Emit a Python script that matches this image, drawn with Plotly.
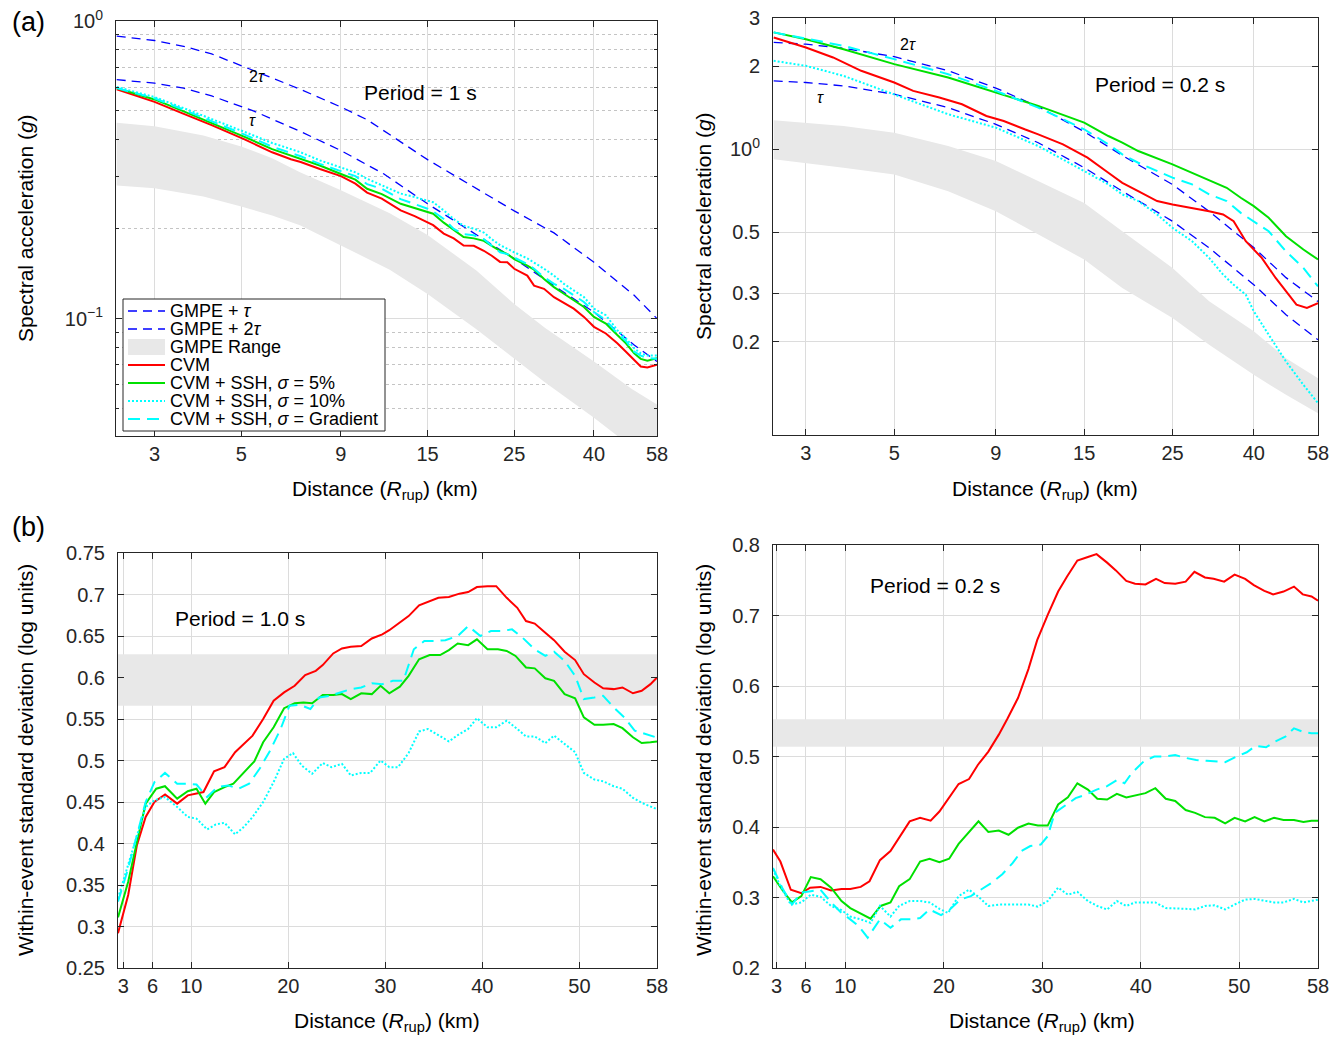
import math
import plotly.graph_objects as go

# ================= DATA =================
# ---- (a) left : Period = 1 s (spectral acceleration, g) ----
TL_X = [2.4, 3.0, 3.5, 4.2, 5.1, 6.0, 6.7, 7.1, 7.95, 9.0, 9.8, 10.5, 11.45, 12.8, 13.9, 15.0, 15.5, 16.5,
        17.5, 18.55, 19.7, 20.9, 21.9, 23.0, 24.0, 25.0, 27.0, 28.1, 29.8, 31.6, 33.5, 35.5, 37.7, 40.0,
        42.9, 45.9, 48.3, 50.7, 52.7, 54.8, 58.0]
TL_CVM = [0.59, 0.535, 0.492, 0.447, 0.4, 0.362, 0.343, 0.336, 0.318, 0.301, 0.284, 0.265, 0.253, 0.231,
          0.221, 0.21, 0.206, 0.193, 0.186, 0.176, 0.1756, 0.169, 0.1626, 0.155, 0.1545, 0.147, 0.1394,
          0.129, 0.1259, 0.118, 0.1128, 0.108, 0.1013, 0.0938, 0.0891, 0.0826, 0.0774, 0.0726, 0.069,
          0.0685, 0.070]
TL_SSH5 = [0.595, 0.545, 0.502, 0.455, 0.408, 0.371, 0.353, 0.346, 0.327, 0.306, 0.293, 0.273, 0.262,
           0.243, 0.235, 0.227, 0.225, 0.21, 0.198, 0.188, 0.186, 0.1824, 0.1756, 0.169, 0.1647, 0.1585,
           0.1506, 0.146, 0.1359, 0.1275, 0.1212, 0.1151, 0.1094, 0.1013, 0.0962, 0.088, 0.0826, 0.0764,
           0.0732, 0.0721, 0.0736]
TL_SSH10 = [0.6, 0.555, 0.514, 0.469, 0.424, 0.389, 0.371, 0.362, 0.34, 0.322, 0.31, 0.295, 0.28, 0.263,
            0.256, 0.249, 0.246, 0.231, 0.216, 0.205, 0.2005, 0.1945, 0.1848, 0.1765, 0.1711, 0.167,
            0.1593, 0.1545, 0.147, 0.1394, 0.1308, 0.1243, 0.1181, 0.108, 0.1026, 0.0914, 0.0858, 0.0794,
            0.0764, 0.0751, 0.0751]
TL_SSHG = [0.595, 0.55, 0.508, 0.461, 0.415, 0.378, 0.361, 0.351, 0.331, 0.312, 0.301, 0.283, 0.273,
           0.252, 0.243, 0.234, 0.229, 0.216, 0.2, 0.192, 0.1905, 0.1848, 0.1756, 0.167, 0.1647, 0.1605,
           0.1525, 0.147, 0.1377, 0.1308, 0.1259, 0.1197, 0.1137, 0.1052, 0.0988, 0.0891, 0.0841, 0.0774,
           0.0751, 0.0736, 0.0733]
TL_TAU_X = [2.4, 3.0, 3.56, 4.2, 5.35, 7.07, 9.0, 11.6, 15.0, 18.9, 25.0, 31.6, 40.0, 50.7, 58.0]
TL_TAU = [0.635, 0.618, 0.595, 0.56, 0.5, 0.426, 0.367, 0.306, 0.243, 0.2, 0.159, 0.129, 0.105, 0.0815, 0.0717]
TL_2TAU_X = [2.4, 3.0, 3.56, 4.2, 5.48, 7.07, 9.0, 10.5, 15.0, 18.9, 25.0, 31.6, 40.0, 50.7, 58.0]
TL_2TAU = [0.89, 0.86, 0.822, 0.775, 0.675, 0.59, 0.514, 0.466, 0.342, 0.286, 0.23, 0.194, 0.1545, 0.1197, 0.1]
TL_BAND_X = [2.4, 3.0, 4.0, 5.0, 6.0, 7.07, 9.0, 12.0, 15.0, 20.0, 25.0, 30.0, 40.0, 50.0, 58.0]
TL_BAND_HI = [0.455, 0.443, 0.412, 0.379, 0.346, 0.31, 0.27, 0.226, 0.191, 0.145, 0.112, 0.093, 0.0717, 0.058, 0.0514]
TL_BAND_LO = [0.28, 0.274, 0.257, 0.238, 0.222, 0.206, 0.176, 0.146, 0.121, 0.092, 0.0736, 0.061, 0.0464, 0.037, 0.032]

# ---- (a) right : Period = 0.2 s ----
TR_CVM_X = [2.49, 3.0, 3.51, 4.13, 5.0, 5.58, 6.49, 7.4, 8.52, 9.42, 10.63, 11.5, 13.27, 15.29, 17.25, 18.7,
            20.5, 22.87, 25.0, 28.0, 30.9, 33.5, 35.6, 38.2, 41.9, 45.4, 48.2, 51.2, 54.4, 58.0]
TR_CVM = [2.55, 2.345, 2.157, 1.929, 1.749, 1.631, 1.542, 1.458, 1.322, 1.268, 1.183, 1.134, 1.043, 0.933,
          0.822, 0.756, 0.705, 0.649, 0.631, 0.613, 0.596, 0.58, 0.548, 0.4637, 0.4034, 0.341, 0.305,
          0.2727, 0.2652, 0.2765]
TR_SSH5_X = [2.49, 3.0, 3.73, 5.0, 6.83, 9.0, 11.5, 15.0, 17.25, 18.7, 20.5, 25.0, 28.0, 30.9, 34.2, 37.1,
             40.0, 43.6, 48.2, 53.3, 58.0]
TR_SSH5 = [2.66, 2.51, 2.31, 2.04, 1.824, 1.608, 1.438, 1.251, 1.118, 1.057, 0.986, 0.882, 0.822, 0.777,
           0.725, 0.667, 0.622, 0.564, 0.4836, 0.4325, 0.398]
TR_SSHG_X = [2.49, 3.73, 5.0, 6.83, 9.0, 11.5, 15.0, 17.25, 18.7, 20.5, 25.0, 28.0, 30.9, 34.2, 37.1, 40.0,
             43.6, 48.2, 53.3, 58.0]
TR_SSHG = [2.66, 2.377, 2.127, 1.875, 1.631, 1.418, 1.183, 1.043, 0.959, 0.894, 0.789, 0.746, 0.686, 0.649,
           0.588, 0.548, 0.504, 0.426, 0.371, 0.318]
TR_SSH10_X = [2.49, 3.0, 3.73, 5.0, 6.83, 9.0, 11.5, 15.0, 17.25, 18.7, 20.5, 22.87, 25.0, 28.0, 30.9, 33.5,
              35.6, 38.2, 40.0, 43.6, 48.2, 53.3, 58.0]
TR_SSH10 = [2.097, 2.011, 1.849, 1.586, 1.341, 1.199, 1.028, 0.834, 0.746, 0.686, 0.649, 0.58, 0.519,
            0.4637, 0.4034, 0.3507, 0.3225, 0.2966, 0.258, 0.2122, 0.1696, 0.1395, 0.1197]
TR_GMPE_X = [2.49, 3.0, 3.73, 5.0, 6.83, 9.0, 11.5, 15.0, 18.7, 25.0, 30.9, 40.0, 48.2, 58.0]
TR_TAU = [1.773, 1.749, 1.70, 1.586, 1.418, 1.233, 1.057, 0.858, 0.705, 0.548, 0.4385, 0.3225, 0.2508, 0.2034]
TR_2TAU = [2.445, 2.41, 2.33, 2.17, 1.93, 1.67, 1.43, 1.16, 0.95, 0.745, 0.595, 0.44, 0.342, 0.28]
TR_BAND_X = [2.49, 3.73, 5.0, 6.83, 9.0, 11.5, 15.0, 18.7, 25.0, 30.9, 40.0, 48.2, 58.0]
TR_BAND_HI = [1.275, 1.216, 1.15, 1.028, 0.907, 0.767, 0.639, 0.504, 0.371, 0.2805, 0.2182, 0.1744, 0.1475]
TR_BAND_LO = [0.92, 0.858, 0.811, 0.705, 0.596, 0.4904, 0.398, 0.3136, 0.2439, 0.195, 0.1517, 0.1283, 0.11]

# ---- (b) left : Period = 1.0 s (within-event std, log units) ----
BL_CVM_X = [2.45, 3.5, 4.4, 5.3, 6.2, 7.3, 8.55, 9.64, 11.26, 12.35, 13.43, 14.52, 16.32, 17.41, 18.49, 19.57,
            20.66, 21.74, 22.83, 23.55, 24.63, 25.53, 26.44, 27.52, 28.61, 29.69, 30.41, 31.5, 32.4, 33.48,
            34.39, 35.47, 36.55, 37.64, 38.54, 39.44, 40.53, 41.43, 42.51, 43.6, 44.5, 45.4, 46.49, 47.39,
            48.48, 49.56, 50.46, 51.55, 52.45, 53.53, 54.44, 55.52, 56.42, 57.33, 58.0]
BL_CVM = [0.292, 0.338, 0.398, 0.432, 0.45, 0.459, 0.448, 0.458, 0.462, 0.487, 0.492, 0.51, 0.53, 0.55, 0.572,
          0.582, 0.59, 0.603, 0.608, 0.615, 0.629, 0.635, 0.637, 0.638, 0.647, 0.652, 0.657, 0.666, 0.674,
          0.687, 0.691, 0.696, 0.697, 0.701, 0.703, 0.709, 0.71, 0.71, 0.696, 0.684, 0.668, 0.665, 0.654,
          0.645, 0.631, 0.621, 0.604, 0.594, 0.587, 0.586, 0.588, 0.581, 0.584, 0.592, 0.6]
BL_SSH5_X = [2.45, 3.5, 4.4, 5.3, 6.39, 7.29, 8.55, 9.64, 10.54, 11.45, 12.35, 13.43, 14.34, 15.42, 16.5, 17.41,
             18.49, 19.57, 20.66, 21.56, 22.46, 23.55, 24.63, 25.53, 26.44, 27.52, 28.61, 29.51, 30.41, 31.5,
             32.4, 33.48, 34.57, 35.65, 36.55, 37.46, 38.54, 39.44, 40.53, 41.61, 42.51, 43.42, 44.5, 45.4,
             46.49, 47.39, 48.48, 49.56, 50.46, 51.55, 52.45, 53.53, 54.44, 55.52, 56.42, 57.33, 58.0]
BL_SSH5 = [0.311, 0.354, 0.402, 0.448, 0.466, 0.469, 0.454, 0.463, 0.466, 0.448, 0.462, 0.468, 0.472, 0.485,
           0.499, 0.522, 0.54, 0.563, 0.569, 0.57, 0.569, 0.579, 0.579, 0.58, 0.574, 0.581, 0.58, 0.59, 0.581,
           0.589, 0.602, 0.622, 0.627, 0.627, 0.633, 0.641, 0.639, 0.646, 0.634, 0.634, 0.632, 0.626, 0.612,
           0.611, 0.599, 0.596, 0.58, 0.575, 0.552, 0.543, 0.543, 0.544, 0.539, 0.528, 0.521, 0.522, 0.523]
BL_SSHG_X = [2.45, 3.5, 4.4, 5.3, 6.21, 7.29, 8.55, 9.64, 10.54, 11.63, 12.71, 13.79, 14.88, 15.96, 17.04,
             18.13, 19.21, 20.12, 21.2, 22.28, 23.19, 24.27, 25.35, 26.44, 27.52, 28.61, 29.69, 30.77, 31.86,
             32.94, 34.02, 35.1, 36.19, 37.46, 38.54, 39.8, 40.89, 41.97, 43.06, 44.14, 45.4, 46.49, 47.39,
             48.48, 49.56, 50.46, 51.55, 52.45, 53.53, 54.62, 55.7, 56.78, 57.87]
BL_SSHG = [0.33, 0.37, 0.41, 0.45, 0.474, 0.485, 0.472, 0.472, 0.471, 0.456, 0.468, 0.47, 0.466, 0.472, 0.49,
           0.512, 0.538, 0.566, 0.567, 0.562, 0.576, 0.578, 0.582, 0.586, 0.588, 0.593, 0.592, 0.596, 0.596,
           0.634, 0.644, 0.644, 0.645, 0.65, 0.662, 0.65, 0.656, 0.656, 0.658, 0.648, 0.634, 0.626, 0.631,
           0.62, 0.602, 0.574, 0.576, 0.578, 0.564, 0.552, 0.536, 0.532, 0.528]
BL_SSH10_X = [2.45, 3.5, 4.4, 5.3, 6.21, 7.29, 8.55, 9.64, 10.54, 11.63, 12.53, 13.43, 14.52, 15.42, 16.32,
              17.41, 18.49, 19.57, 20.48, 21.38, 22.46, 23.55, 24.45, 25.53, 26.44, 27.52, 28.43, 29.51, 30.41,
              31.32, 32.4, 33.48, 34.39, 35.47, 36.55, 37.64, 38.54, 39.44, 40.53, 41.43, 42.51, 43.6, 44.5,
              45.4, 46.49, 47.39, 48.48, 49.56, 50.46, 51.55, 52.45, 53.53, 54.44, 55.52, 56.42, 57.87]
BL_SSH10 = [0.334, 0.374, 0.41, 0.444, 0.452, 0.456, 0.444, 0.432, 0.43, 0.417, 0.423, 0.425, 0.411, 0.42,
            0.432, 0.45, 0.474, 0.502, 0.509, 0.494, 0.484, 0.497, 0.492, 0.496, 0.482, 0.485, 0.485, 0.5,
            0.492, 0.492, 0.509, 0.535, 0.538, 0.53, 0.523, 0.532, 0.538, 0.551, 0.54, 0.54, 0.548, 0.538,
            0.529, 0.529, 0.521, 0.53, 0.52, 0.51, 0.485, 0.477, 0.475, 0.469, 0.466, 0.455, 0.449, 0.442]
BL_BAND = [0.566, 0.628]

# ---- (b) right : Period = 0.2 s ----
BR_CVM_X = [2.65, 3.4, 4.46, 5.53, 6.42, 7.48, 8.55, 9.61, 10.5, 11.56, 12.45, 13.51, 14.58, 15.46, 16.53,
            17.59, 18.66, 19.55, 20.43, 21.5, 22.56, 23.45, 24.52, 25.58, 26.47, 27.53, 28.59, 29.48, 30.55,
            31.61, 32.5, 33.56, 34.63, 35.51, 36.58, 37.47, 38.53, 39.42, 40.48, 41.55, 42.43, 43.5, 44.56,
            45.45, 46.52, 47.4, 48.47, 49.53, 50.6, 51.48, 52.55, 53.44, 54.5, 55.56, 56.45, 57.34, 58.0]
BR_CVM = [0.368, 0.351, 0.311, 0.306, 0.314, 0.315, 0.31, 0.312, 0.312, 0.315, 0.323, 0.353, 0.366, 0.385,
          0.408, 0.413, 0.409, 0.422, 0.439, 0.461, 0.468, 0.488, 0.507, 0.531, 0.554, 0.583, 0.624, 0.665,
          0.701, 0.734, 0.755, 0.778, 0.783, 0.787, 0.775, 0.764, 0.749, 0.745, 0.744, 0.752, 0.746, 0.745,
          0.748, 0.762, 0.754, 0.752, 0.748, 0.758, 0.752, 0.743, 0.735, 0.73, 0.734, 0.741, 0.73, 0.727,
          0.721]
BR_SSH5_X = [2.65, 3.58, 4.57, 5.53, 6.49, 7.48, 8.55, 9.61, 10.5, 11.56, 12.56, 13.58, 14.58, 15.46, 16.53,
             17.59, 18.55, 19.55, 20.54, 21.5, 22.56, 23.52, 24.52, 25.58, 26.57, 27.53, 28.59, 29.55, 30.55,
             31.61, 32.6, 33.56, 34.63, 35.59, 36.58, 37.57, 38.53, 39.42, 40.48, 41.48, 42.54, 43.5, 44.56,
             45.52, 46.52, 47.51, 48.57, 49.53, 50.6, 51.56, 52.55, 53.54, 54.5, 55.56, 56.52, 57.34, 58.0]
BR_SSH5 = [0.33, 0.311, 0.293, 0.302, 0.329, 0.326, 0.314, 0.295, 0.285, 0.277, 0.27, 0.288, 0.293, 0.316,
           0.326, 0.351, 0.355, 0.35, 0.355, 0.376, 0.392, 0.408, 0.393, 0.395, 0.389, 0.399, 0.405, 0.402,
           0.402, 0.432, 0.442, 0.462, 0.453, 0.44, 0.439, 0.447, 0.442, 0.445, 0.448, 0.455, 0.44, 0.437,
           0.424, 0.42, 0.414, 0.413, 0.405, 0.413, 0.408, 0.414, 0.408, 0.413, 0.41, 0.41, 0.407, 0.409,
           0.409]
BR_SSHG_X = [2.65, 3.58, 4.57, 5.53, 6.49, 7.48, 8.55, 9.61, 10.5, 11.38, 12.27, 13.51, 14.58, 15.64, 16.71,
             17.59, 18.55, 19.72, 20.61, 21.68, 22.74, 23.81, 24.87, 25.94, 27.0, 27.89, 28.78, 29.84, 30.55,
             31.26, 32.32, 33.39, 34.45, 35.51, 36.58, 37.64, 38.35, 39.06, 40.3, 41.37, 42.43, 43.5, 44.56,
             45.63, 46.69, 47.58, 48.57, 49.71, 50.77, 51.66, 52.72, 53.61, 54.68, 55.56, 56.45, 57.34, 58.0]
BR_SSHG = [0.342, 0.314, 0.29, 0.307, 0.309, 0.311, 0.293, 0.278, 0.269, 0.259, 0.243, 0.269, 0.257, 0.269,
           0.269, 0.271, 0.283, 0.275, 0.283, 0.297, 0.302, 0.311, 0.321, 0.333, 0.349, 0.366, 0.373, 0.375,
           0.387, 0.42, 0.43, 0.441, 0.446, 0.453, 0.458, 0.467, 0.462, 0.476, 0.493, 0.5, 0.5, 0.502, 0.498,
           0.495, 0.494, 0.493, 0.492, 0.5, 0.506, 0.515, 0.513, 0.521, 0.528, 0.54, 0.535, 0.533, 0.533]
BR_SSH10_X = [2.65, 3.4, 4.46, 5.53, 6.49, 7.48, 8.55, 9.61, 10.5, 11.56, 12.56, 13.51, 14.58, 15.46, 16.53,
              17.59, 18.55, 19.55, 20.43, 21.5, 22.56, 23.52, 24.52, 25.58, 26.57, 27.53, 28.59, 29.55, 30.55,
              31.61, 32.6, 33.56, 34.63, 35.59, 36.58, 37.57, 38.53, 39.42, 40.48, 41.48, 42.54, 43.5, 44.56,
              45.52, 46.52, 47.51, 48.57, 49.53, 50.6, 51.56, 52.55, 53.54, 54.5, 55.56, 56.52, 57.34, 58.0]
BR_SSH10 = [0.34, 0.316, 0.29, 0.293, 0.304, 0.301, 0.288, 0.282, 0.273, 0.269, 0.264, 0.288, 0.273, 0.288,
            0.295, 0.295, 0.293, 0.284, 0.278, 0.302, 0.311, 0.301, 0.288, 0.29, 0.29, 0.29, 0.29, 0.287,
            0.295, 0.314, 0.304, 0.308, 0.295, 0.288, 0.283, 0.295, 0.288, 0.293, 0.293, 0.293, 0.285, 0.285,
            0.284, 0.283, 0.288, 0.289, 0.283, 0.29, 0.297, 0.298, 0.296, 0.293, 0.293, 0.298, 0.293, 0.295,
            0.297]
BR_BAND = [0.514, 0.553]

# axis ranges and tick labels
TL_XRANGE = [2.39, 58]
TR_XRANGE = [2.48, 58]
BL_XRANGE = [2.45, 58]
BR_XRANGE = [2.65, 58]
TOP_XTICKS = [3, 5, 9, 15, 25, 40, 58]
BOT_XTICKS = [3, 6, 10, 20, 30, 40, 50, 58]
TL_YTICKS = [0.1, 1]
TL_YTEXT = ["10<sup>\u22121</sup>", "10<sup>0</sup>"]
TL_YMINOR = [0.05, 0.06, 0.07, 0.08, 0.09, 0.2, 0.3, 0.4, 0.5, 0.6, 0.7, 0.8, 0.9]
TR_YTICKS = [0.2, 0.3, 0.5, 1, 2, 3]
TR_YTEXT = ["0.2", "0.3", "0.5", "10<sup>0</sup>", "2", "3"]
BL_YTICKS = [0.25, 0.3, 0.35, 0.4, 0.45, 0.5, 0.55, 0.6, 0.65, 0.7, 0.75]
BR_YTICKS = [0.2, 0.3, 0.4, 0.5, 0.6, 0.7, 0.8]

# ================= STYLE =================
W, H = 1342, 1040
FONT = "Liberation Sans, Arial, Helvetica, sans-serif"
AXC = "#262626"
GRID = "#dcdcdc"
BLUE, RED, GREEN, CYAN = "#0000ff", "#ff0000", "#00e000", "#00ffff"
BANDC = "#e8e8e8"
BLUE_DASH = "9px,6px"
CYAN_DASH = "12px,7px"
DOT = "2px,2px"


def px_x(p):
    return p / W


def px_y(p):
    return 1 - p / H


def fmt(v):
    s = ("%.2f" % v).rstrip("0")
    return s[:-1] if s.endswith(".") else s


fig = go.Figure()


def band_trace(xs, hi, lo, xa, ya):
    return go.Scatter(x=list(xs) + list(xs)[::-1], y=list(hi) + list(lo)[::-1], fill="toself",
                      fillcolor=BANDC, line=dict(width=0, color=BANDC), mode="lines",
                      name="GMPE Range", showlegend=False, xaxis=xa, yaxis=ya, hoverinfo="skip")


def flat_band(xr, lims, xa, ya):
    return go.Scatter(x=[xr[0], xr[1], xr[1], xr[0]], y=[lims[0], lims[0], lims[1], lims[1]],
                      fill="toself", fillcolor=BANDC, line=dict(width=0, color=BANDC), mode="lines",
                      name="GMPE Range", showlegend=False, xaxis=xa, yaxis=ya, hoverinfo="skip")


def line(x, y, xa, ya, name, color, width, dash):
    return go.Scatter(x=x, y=y, mode="lines", line=dict(color=color, width=width, dash=dash),
                      name=name, showlegend=False, xaxis=xa, yaxis=ya)


NAMES = {
    "tau": "GMPE + <i>\u03c4</i>",
    "2tau": "GMPE + 2<i>\u03c4</i>",
    "range": "GMPE Range",
    "cvm": "CVM",
    "s5": "CVM + SSH, <i>\u03c3</i> = 5%",
    "s10": "CVM + SSH, <i>\u03c3</i> = 10%",
    "sg": "CVM + SSH, <i>\u03c3</i> = Gradient",
}

# top-left
fig.add_trace(band_trace(TL_BAND_X, TL_BAND_HI, TL_BAND_LO, "x", "y"))
fig.add_trace(line(TL_TAU_X, TL_TAU, "x", "y", NAMES["tau"], BLUE, 1.3, BLUE_DASH))
fig.add_trace(line(TL_2TAU_X, TL_2TAU, "x", "y", NAMES["2tau"], BLUE, 1.3, BLUE_DASH))
fig.add_trace(line(TL_X, TL_CVM, "x", "y", NAMES["cvm"], RED, 2, "solid"))
fig.add_trace(line(TL_X, TL_SSH5, "x", "y", NAMES["s5"], GREEN, 2, "solid"))
fig.add_trace(line(TL_X, TL_SSH10, "x", "y", NAMES["s10"], CYAN, 2, DOT))
fig.add_trace(line(TL_X, TL_SSHG, "x", "y", NAMES["sg"], CYAN, 2, CYAN_DASH))

# top-right
fig.add_trace(band_trace(TR_BAND_X, TR_BAND_HI, TR_BAND_LO, "x2", "y2"))
fig.add_trace(line(TR_GMPE_X, TR_TAU, "x2", "y2", NAMES["tau"], BLUE, 1.3, BLUE_DASH))
fig.add_trace(line(TR_GMPE_X, TR_2TAU, "x2", "y2", NAMES["2tau"], BLUE, 1.3, BLUE_DASH))
fig.add_trace(line(TR_CVM_X, TR_CVM, "x2", "y2", NAMES["cvm"], RED, 2, "solid"))
fig.add_trace(line(TR_SSH5_X, TR_SSH5, "x2", "y2", NAMES["s5"], GREEN, 2, "solid"))
fig.add_trace(line(TR_SSH10_X, TR_SSH10, "x2", "y2", NAMES["s10"], CYAN, 2, DOT))
fig.add_trace(line(TR_SSHG_X, TR_SSHG, "x2", "y2", NAMES["sg"], CYAN, 2, CYAN_DASH))

# bottom-left
fig.add_trace(flat_band(BL_XRANGE, BL_BAND, "x3", "y3"))
fig.add_trace(line(BL_CVM_X, BL_CVM, "x3", "y3", NAMES["cvm"], RED, 2, "solid"))
fig.add_trace(line(BL_SSH5_X, BL_SSH5, "x3", "y3", NAMES["s5"], GREEN, 2, "solid"))
fig.add_trace(line(BL_SSH10_X, BL_SSH10, "x3", "y3", NAMES["s10"], CYAN, 2, DOT))
fig.add_trace(line(BL_SSHG_X, BL_SSHG, "x3", "y3", NAMES["sg"], CYAN, 2, CYAN_DASH))

# bottom-right
fig.add_trace(flat_band(BR_XRANGE, BR_BAND, "x4", "y4"))
fig.add_trace(line(BR_CVM_X, BR_CVM, "x4", "y4", NAMES["cvm"], RED, 2, "solid"))
fig.add_trace(line(BR_SSH5_X, BR_SSH5, "x4", "y4", NAMES["s5"], GREEN, 2, "solid"))
fig.add_trace(line(BR_SSH10_X, BR_SSH10, "x4", "y4", NAMES["s10"], CYAN, 2, DOT))
fig.add_trace(line(BR_SSHG_X, BR_SSHG, "x4", "y4", NAMES["sg"], CYAN, 2, CYAN_DASH))

TICKF = dict(family=FONT, size=20, color=AXC)


def axis(domain, anchor, **kw):
    d = dict(domain=domain, anchor=anchor, showline=True, linecolor=AXC, linewidth=1, mirror="ticks",
             ticks="inside", ticklen=6, tickcolor=AXC, showgrid=True, gridcolor=GRID, gridwidth=1,
             zeroline=False, tickfont=TICKF, automargin=False)
    d.update(kw)
    return d


def lg(r):
    return [math.log10(r[0]), math.log10(r[1])]


fig.update_layout(
    width=W, height=H, margin=dict(l=0, r=0, t=0, b=0),
    paper_bgcolor="white", plot_bgcolor="white",
    font=dict(family=FONT, color="black"),
    showlegend=False,
    xaxis=axis([px_x(116), px_x(657)], "y", type="log", range=lg(TL_XRANGE), tickmode="array",
               tickvals=TOP_XTICKS, ticktext=[str(v) for v in TOP_XTICKS], ticklabelstandoff=0),
    yaxis=axis([px_y(436), px_y(21)], "x", type="log", range=[math.log10(0.0403), 0],
               tickmode="array", tickvals=TL_YTICKS, ticktext=TL_YTEXT, ticklabelstandoff=8,
               minor=dict(tickmode="array", tickvals=TL_YMINOR, ticks="inside", ticklen=3,
                          tickcolor=AXC, showgrid=True, gridcolor="#c4c4c4", griddash="dot")),
    xaxis2=axis([px_x(773), px_x(1318)], "y2", type="log", range=lg(TR_XRANGE), tickmode="array",
                tickvals=TOP_XTICKS, ticktext=[str(v) for v in TOP_XTICKS], ticklabelstandoff=0),
    yaxis2=axis([px_y(435), px_y(18)], "x2", type="log",
                range=[math.log10(0.0917), math.log10(3)], tickmode="array",
                tickvals=TR_YTICKS, ticktext=TR_YTEXT, ticklabelstandoff=8),
    xaxis3=axis([px_x(118), px_x(657)], "y3", range=BL_XRANGE, tickmode="array",
                tickvals=BOT_XTICKS, ticktext=[str(v) for v in BOT_XTICKS], ticklabelstandoff=0),
    yaxis3=axis([px_y(968), px_y(553)], "x3", range=[0.25, 0.75], tickmode="array",
                tickvals=BL_YTICKS, ticktext=[fmt(v) for v in BL_YTICKS], ticklabelstandoff=8),
    xaxis4=axis([px_x(773), px_x(1318)], "y4", range=BR_XRANGE, tickmode="array",
                tickvals=BOT_XTICKS, ticktext=[str(v) for v in BOT_XTICKS], ticklabelstandoff=0),
    yaxis4=axis([px_y(968), px_y(545)], "x4", range=[0.2, 0.8], tickmode="array",
                tickvals=BR_YTICKS, ticktext=[fmt(v) for v in BR_YTICKS], ticklabelstandoff=8),
)


def ann(text, x, y, size=21, angle=0, xanchor="center"):
    fig.add_annotation(text=text, x=px_x(x), y=px_y(y), xref="paper", yref="paper", showarrow=False,
                       xanchor=xanchor, yanchor="middle", textangle=angle,
                       font=dict(family=FONT, size=size, color="black"))


# ---- legend (drawn as a box inside the top-left panel) ----
LEG_L, LEG_T, LEG_R, LEG_B = 123, 299, 385, 431
fig.add_shape(type="rect", xref="paper", yref="paper", x0=px_x(LEG_L), x1=px_x(LEG_R),
              y0=px_y(LEG_B), y1=px_y(LEG_T), fillcolor="white", line=dict(color=AXC, width=1),
              layer="above")
LEG_ITEMS = [
    ("tau", BLUE, 1.3, BLUE_DASH),
    ("2tau", BLUE, 1.3, BLUE_DASH),
    ("range", None, 0, None),
    ("cvm", RED, 2, "solid"),
    ("s5", GREEN, 2, "solid"),
    ("s10", CYAN, 2, DOT),
    ("sg", CYAN, 2, CYAN_DASH),
]
row_h = (LEG_B - LEG_T - 6) / len(LEG_ITEMS)
for i, (key, col, wd, dsh) in enumerate(LEG_ITEMS):
    yc = LEG_T + 3 + row_h * (i + 0.5)
    if key == "range":
        fig.add_shape(type="rect", xref="paper", yref="paper", x0=px_x(128), x1=px_x(165),
                      y0=px_y(yc + 8), y1=px_y(yc - 8), fillcolor=BANDC, line=dict(width=0),
                      layer="above")
    else:
        fig.add_shape(type="line", xref="paper", yref="paper", x0=px_x(128), x1=px_x(165),
                      y0=px_y(yc), y1=px_y(yc), line=dict(color=col, width=wd, dash=dsh),
                      layer="above")
    ann(NAMES[key], 168, yc, size=18, xanchor="left")

XT = "Distance (<i>R</i><sub>rup</sub>) (km)"
ann("(a)", 10, 22, size=27, xanchor="left")
ann("(b)", 10, 527, size=27, xanchor="left")
ann("Period = 1 s", 420, 92)
ann("2<i>\u03c4</i>", 257, 77, size=16)
ann("<i>\u03c4</i>", 253, 120, size=16)
ann("Period = 0.2 s", 1160, 84)
ann("2<i>\u03c4</i>", 908, 45, size=16)
ann("<i>\u03c4</i>", 820, 97, size=16)
ann("Period = 1.0 s", 240, 618)
ann("Period = 0.2 s", 935, 585)
ann(XT, 385, 490)
ann(XT, 1045, 490)
ann(XT, 387, 1022)
ann(XT, 1042, 1022)
ann("Spectral acceleration (<i>g</i>)", 25, 228, angle=-90)
ann("Spectral acceleration (<i>g</i>)", 703, 226, angle=-90)
ann("Within-event standard deviation (log units)", 25, 760, angle=-90)
ann("Within-event standard deviation (log units)", 703, 760, angle=-90)

fig.write_html("out.html")
